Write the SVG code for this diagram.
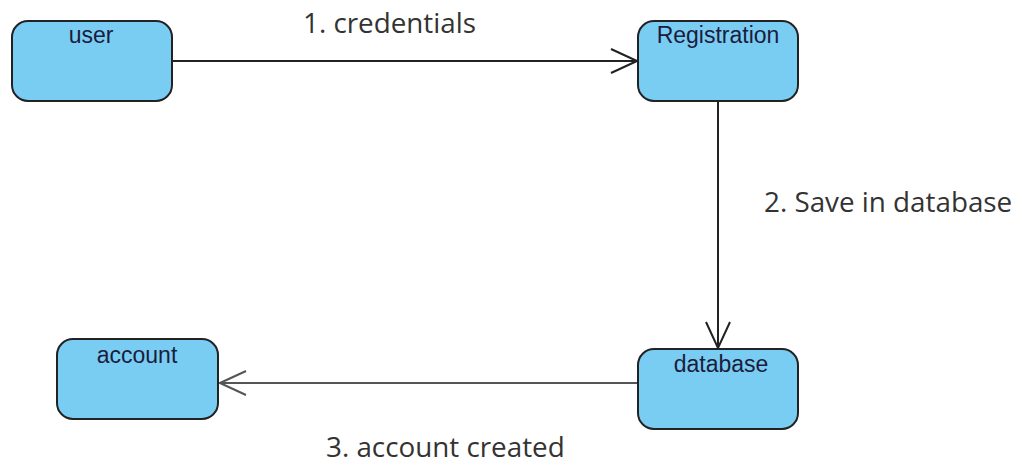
<svg xmlns="http://www.w3.org/2000/svg" width="1022" height="466" viewBox="0 0 1022 466">
  <style>
    .node rect { fill: #79cdf3; stroke: #222; stroke-width: 2; }
    .node text { font-family: "Liberation Sans", Arial, sans-serif; font-size: 23px; fill: #1c1c3c; text-anchor: middle; }
    .edge { stroke: #222; stroke-width: 2; fill: none; }
    .edge.light { stroke: #555; }
    .elabel { font-family: "Open Sans", "Noto Sans", sans-serif; font-size: 27.8px; fill: #333; }
  </style>
  <defs>
    <marker id="open-arrow" markerUnits="userSpaceOnUse" markerWidth="32" markerHeight="32" viewBox="-30 -16 32 32" refX="0" refY="0" orient="auto">
      <path d="M-26,-12 L0,0 L-26,12" fill="none" stroke="#222" stroke-width="2"/>
    </marker>
    <marker id="open-arrow-light" markerUnits="userSpaceOnUse" markerWidth="32" markerHeight="32" viewBox="-30 -16 32 32" refX="0" refY="0" orient="auto">
      <path d="M-26,-12 L0,0 L-26,12" fill="none" stroke="#555" stroke-width="2"/>
    </marker>
  </defs>

  <g id="connectors">
    <line class="edge" x1="172" y1="61" x2="637" y2="61" marker-end="url(#open-arrow)"/>
    <line class="edge" x1="718" y1="101" x2="718" y2="348" marker-end="url(#open-arrow)"/>
    <line class="edge light" x1="638" y1="383" x2="220" y2="383" marker-end="url(#open-arrow-light)"/>
    <text class="elabel" x="303" y="33">1. credentials</text>
    <text class="elabel" x="764" y="212">2. Save in database</text>
    <text class="elabel" x="326" y="457">3. account created</text>
  </g>

  <g id="user" class="node">
    <rect x="12" y="21" width="160" height="80" rx="16" ry="16"/>
    <text x="91" y="43">user</text>
  </g>
  <g id="registration" class="node">
    <rect x="638" y="21" width="160" height="80" rx="16" ry="16"/>
    <text x="718" y="43">Registration</text>
  </g>
  <g id="database" class="node">
    <rect x="638" y="349" width="160" height="80" rx="16" ry="16"/>
    <text x="721" y="372">database</text>
  </g>
  <g id="account" class="node">
    <rect x="57" y="339" width="161" height="80" rx="16" ry="16"/>
    <text x="137" y="363">account</text>
  </g>
</svg>
